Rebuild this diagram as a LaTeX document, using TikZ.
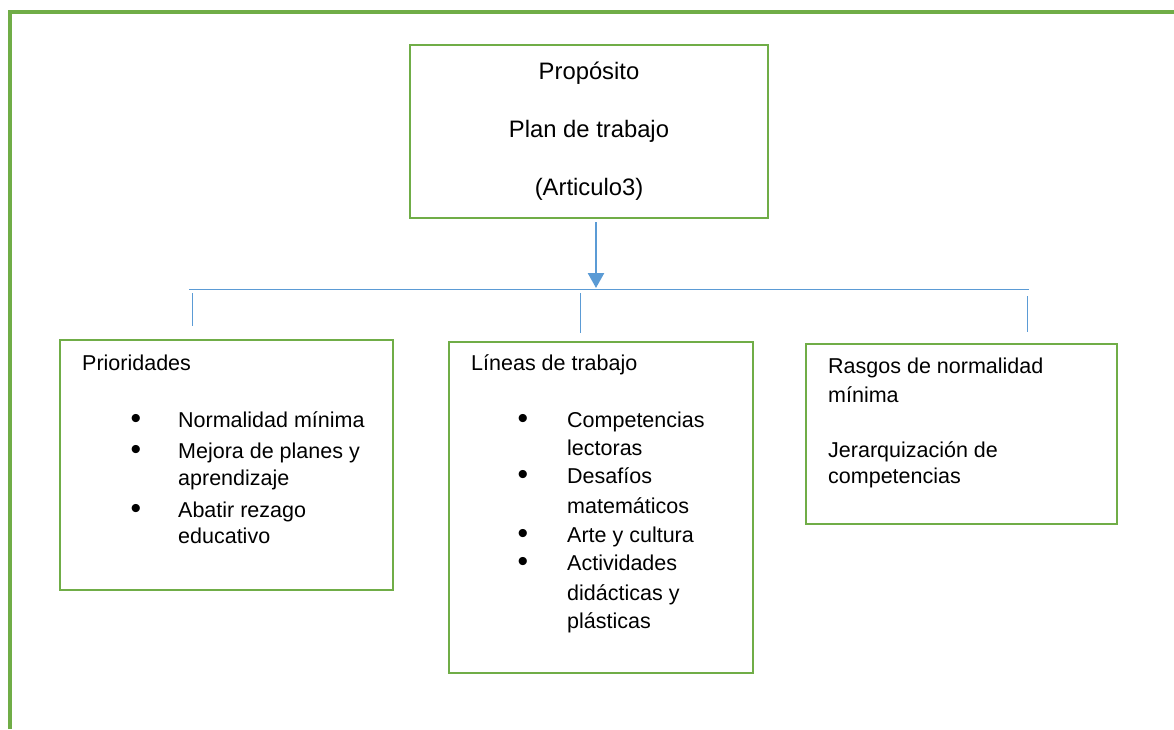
\documentclass[tikz,border=0pt]{standalone}
\usepackage{fontspec}
\setmainfont{Liberation Sans}
\usetikzlibrary{arrows.meta}
\definecolor{boxgreen}{RGB}{112,173,71}
\definecolor{lineblue}{RGB}{91,155,213}

\begin{document}
\begin{tikzpicture}[x=1pt,y=-1pt,line cap=butt,line join=miter,
    font=\fontsize{21.5}{28.8}\selectfont,
    box/.style={draw=boxgreen,line width=2pt,inner sep=0pt},
    ln/.style={anchor=west,inner sep=0pt,text height=15pt,text depth=5pt},
    dot/.style={inner sep=0pt,yshift=0.5pt}]

    \useasboundingbox (0,0) rectangle (1174,729);

    % marco
    \draw [line width=4pt,color=boxgreen] (10,729) -- (10,12) -- (1174,12);

    % cajas
    \node [box,minimum width=358pt,minimum height=173pt,align=center,
        font=\fontsize{23.8}{28.8}\selectfont] (proposito) at (589,131)
        {Propósito\\[29pt]Plan de trabajo\\[29pt](Articulo3)};
    \node [box,minimum width=333pt,minimum height=250pt] (prio) at (226.5,465) {};
    \node [box,minimum width=304pt,minimum height=331pt] (lineas) at (601,507.5) {};
    \node [box,minimum width=311pt,minimum height=180pt] (rasgos) at (961.5,434) {};

    % conectores
    \coordinate (arrtop) at (596,222);
    \coordinate (arrtip) at (596,288);
    \coordinate (barl) at (189,289);
    \coordinate (barr) at (1029,289);
    \coordinate (tka) at (192,293);
    \coordinate (tkb) at (192,326);
    \coordinate (tkc) at (580,293);
    \coordinate (tkd) at (580,333);
    \coordinate (tke) at (1027,296);
    \coordinate (tkf) at (1027,332);

    \draw [line width=2.5pt,color=lineblue,-{Triangle[width=16pt,length=15pt]}] (arrtop) -- (arrtip);
    \draw [line width=1pt,color=lineblue] (barl) -- (barr);
    \draw [line width=1pt,color=lineblue] (tka) -- (tkb);
    \draw [line width=1pt,color=lineblue] (tkc) -- (tkd);
    \draw [line width=1pt,color=lineblue] (tke) -- (tkf);

    % Prioridades
    \node [ln] (p0) at (82,365) {Prioridades};
    \node [dot] (pb1) at (136,422) {\scalebox{1.4}{\textbullet}};
    \node [dot] (pb2) at (136,453) {\scalebox{1.4}{\textbullet}};
    \node [dot] (pb3) at (136,512) {\scalebox{1.4}{\textbullet}};
    \node [ln] (p1) at (178,422) {Normalidad mínima};
    \node [ln] (p2) at (178,453) {Mejora de planes y};
    \node [ln] (p3) at (178,480) {aprendizaje};
    \node [ln] (p4) at (178,512) {Abatir rezago};
    \node [ln] (p5) at (178,538) {educativo};

    % Lineas de trabajo
    \node [ln] (l0) at (471,365) {Líneas de trabajo};
    \node [dot] (lb1) at (523,422) {\scalebox{1.4}{\textbullet}};
    \node [dot] (lb2) at (523,478) {\scalebox{1.4}{\textbullet}};
    \node [dot] (lb3) at (523,537) {\scalebox{1.4}{\textbullet}};
    \node [dot] (lb4) at (523,565) {\scalebox{1.4}{\textbullet}};
    \node [ln] (l1) at (567,422) {Competencias};
    \node [ln] (l2) at (567,450) {lectoras};
    \node [ln] (l3) at (567,478) {Desafíos};
    \node [ln] (l4) at (567,508) {matemáticos};
    \node [ln] (l5) at (567,537) {Arte y cultura};
    \node [ln] (l6) at (567,565) {Actividades};
    \node [ln] (l7) at (567,595) {didácticas y};
    \node [ln] (l8) at (567,623) {plásticas};

    % Rasgos
    \node [ln] (r1) at (828,368) {Rasgos de normalidad};
    \node [ln] (r2) at (828,397) {mínima};
    \node [ln] (r3) at (828,452) {Jerarquización de};
    \node [ln] (r4) at (828,478) {competencias};
\end{tikzpicture}
\end{document}
